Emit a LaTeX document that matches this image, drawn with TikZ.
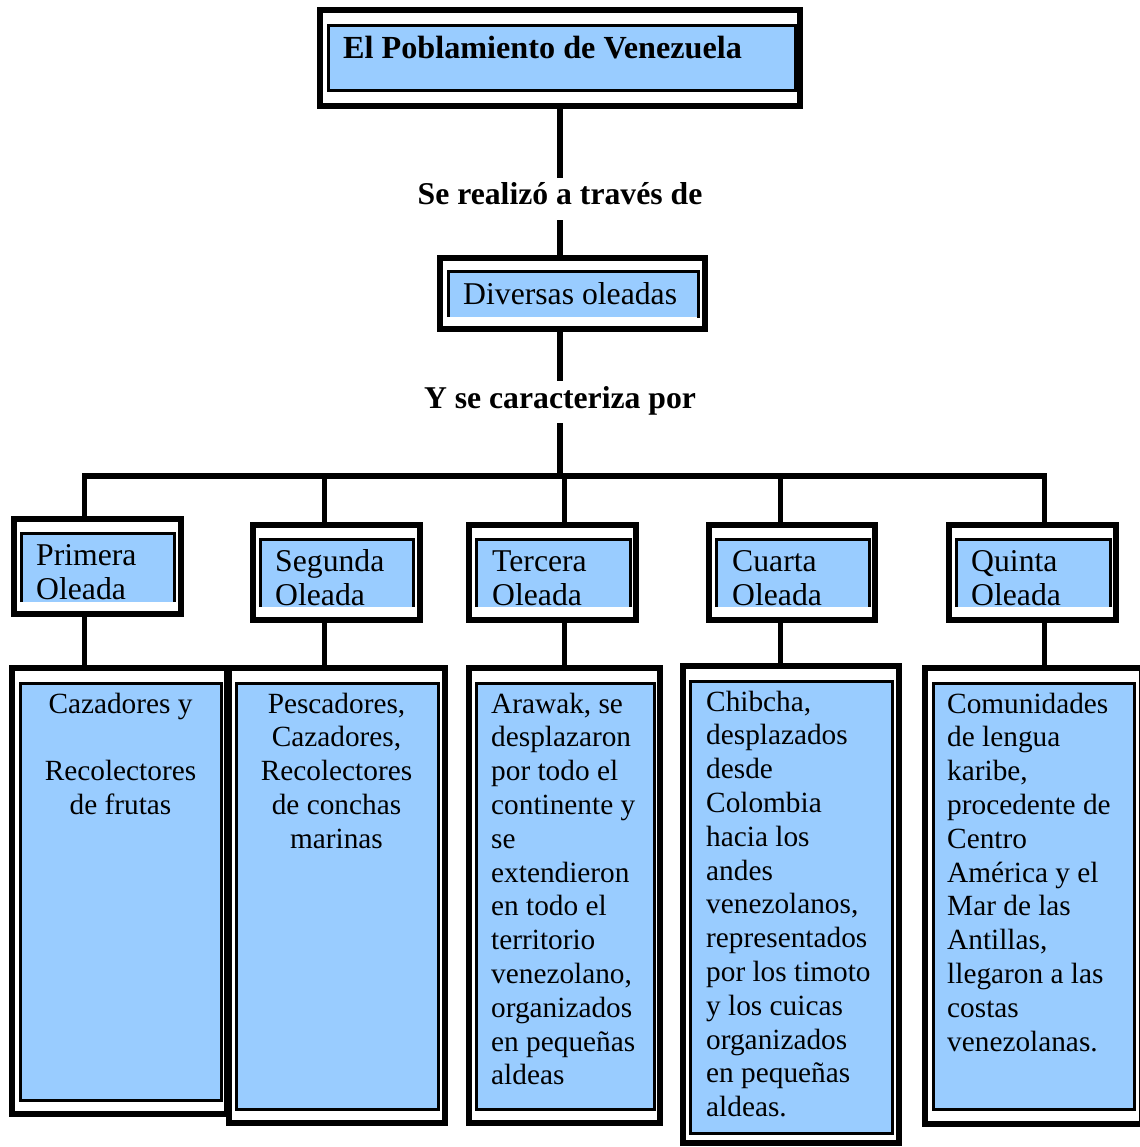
\documentclass[tikz,border=0pt]{standalone}
\usepackage{fontspec}
\setmainfont{Liberation Serif}
\usepackage{tikz}
\newcommand{\outerw}{6pt}
\newcommand{\innerw}{3pt}
\newcommand{\linkw}{5.5pt}
\newcommand{\oleadafont}{\fontsize{31.7pt}{33.8pt}\selectfont}
\newcommand{\descfont}{\fontsize{29.3pt}{33.8pt}\selectfont}
\definecolor{oleadablue}{HTML}{99CCFF}

\begin{document}
\begin{tikzpicture}[x=1pt,y=-1pt]
            \tikzset{outerframe/.style = {draw=black, line width=\outerw, inner sep=0pt}}
            \tikzset{innerbox/.style = {fill=oleadablue, draw=black, line width=\innerw}}
            \tikzset{link/.style = {line width=\linkw}}
            \tikzset{wavetext/.style = {font=\oleadafont, inner sep=0pt}}
            \tikzset{desctext/.style = {font=\descfont, inner sep=0pt}}
            \tikzset{linklabel/.style = {font=\oleadafont\bfseries, inner xsep=0pt, inner ysep=5pt, text height=22pt, text depth=10pt}}
            \useasboundingbox (0,0) rectangle (1139,1147);

            % title and first level
            \node[outerframe, minimum width=480pt, minimum height=96pt] (title) at (560,58) {};
            \draw[innerbox] (328,25.5) rectangle (795,91);
            \node[wavetext, font=\fontsize{32.2pt}{34pt}\selectfont\bfseries, anchor=base west] (titletext) at (343,59) {El Poblamiento de Venezuela};
            \node[linklabel, anchor=base] (realiza) at (560,205) {Se realizó a través de};

            \node[outerframe, minimum width=264.5pt, minimum height=71pt] (div) at (572.25,293.5) {};
            \fill[oleadablue] (448,272) rectangle (698,317);
            \draw[line width=\innerw] (448,317) -- (448,272) -- (698,272) -- (698,318);
            \node[wavetext, anchor=base west] (divtext) at (463,304) {Diversas oleadas};
            \node[linklabel, anchor=base] (caract) at (560,408) {Y se caracteriza por};

            \draw[link] (title.south -| realiza) -- (realiza.north);
            \draw[link] (realiza.south) -- (realiza.south |- div.north);
            \draw[link] (div.south -| caract) -- (caract.north);

            % the five waves (text anchored at the baseline of its last line)
            \node[outerframe, minimum width=167pt, minimum height=95pt] (w1) at (97.5,566.5) {};
            \node[outerframe, minimum width=167pt, minimum height=95pt] (w2) at (336.5,572.5) {};
            \node[outerframe, minimum width=167pt, minimum height=95pt] (w3) at (552.5,572.5) {};
            \node[outerframe, minimum width=166pt, minimum height=95pt] (w4) at (792,572.5) {};
            \node[outerframe, minimum width=167pt, minimum height=95pt] (w5) at (1032.5,572.5) {};

            \fill[oleadablue] (21.5,533.5) rectangle (174.5,602);
            \begin{scope}
                \clip (21.5,533.5) rectangle (174.5,602);
                \node[wavetext, align=left, anchor=base west] (w1text) at (36,599) {Primera\\Oleada};
            \end{scope}
            \draw[line width=\innerw] (21.5,602) -- (21.5,533.5) -- (174.5,533.5) -- (174.5,602);

            \fill[oleadablue] (260.5,539.5) rectangle (413.5,607);
            \begin{scope}
                \clip (260.5,539.5) rectangle (413.5,607);
                \node[wavetext, align=left, anchor=base west] (w2text) at (275,605) {Segunda\\Oleada};
            \end{scope}
            \draw[line width=\innerw] (260.5,607) -- (260.5,539.5) -- (413.5,539.5) -- (413.5,607);

            \fill[oleadablue] (476,539.5) rectangle (630.5,607);
            \begin{scope}
                \clip (476,539.5) rectangle (630.5,607);
                \node[wavetext, align=left, anchor=base west] (w3text) at (492,605) {Tercera\\Oleada};
            \end{scope}
            \draw[line width=\innerw] (476,607) -- (476,539.5) -- (630.5,539.5) -- (630.5,607);

            \fill[oleadablue] (716.5,539.5) rectangle (869.5,607);
            \begin{scope}
                \clip (716.5,539.5) rectangle (869.5,607);
                \node[wavetext, align=left, anchor=base west] (w4text) at (732,605) {Cuarta\\Oleada};
            \end{scope}
            \draw[line width=\innerw] (716.5,607) -- (716.5,539.5) -- (869.5,539.5) -- (869.5,607);

            \fill[oleadablue] (956.5,539.5) rectangle (1110.5,607);
            \begin{scope}
                \clip (956.5,539.5) rectangle (1110.5,607);
                \node[wavetext, align=left, anchor=base west] (w5text) at (971,605) {Quinta\\Oleada};
            \end{scope}
            \draw[line width=\innerw] (956.5,607) -- (956.5,539.5) -- (1110.5,539.5) -- (1110.5,607);

            % description boxes
            \node[outerframe, minimum width=215pt, minimum height=445.5pt] (g1) at (119.5,890.75) {};
            \draw[innerbox] (20.5,683.5) rectangle (221.5,1100.5);
            \node[desctext, align=center, anchor=base] (g1text) at (120.5,814.4)
                {Cazadores y\\[\baselineskip]Recolectores\\de frutas};

            \node[outerframe, minimum width=215.5pt, minimum height=455.5pt] (g2) at (336.75,895.25) {};
            \draw[innerbox] (236,683) rectangle (438,1109.5);
            \node[desctext, align=center, anchor=base] (g2text) at (336.5,848.2)
                {Pescadores,\\Cazadores,\\Recolectores\\de conchas\\marinas};

            \node[outerframe, minimum width=191pt, minimum height=455pt] (g3) at (564.5,895.5) {};
            \draw[innerbox] (476.5,683) rectangle (654,1109.5);
            \node[desctext, align=left, anchor=base west] (g3text) at (491,1084.8)
                {Arawak, se\\desplazaron\\por todo el\\continente y\\se\\extendieron\\en todo el\\territorio\\venezolano,\\organizados\\en pequeñas\\aldeas};

            \node[outerframe, minimum width=216pt, minimum height=477pt] (g4) at (791,904.5) {};
            \draw[innerbox] (690.5,681.5) rectangle (892.5,1133.5);
            \node[desctext, align=left, anchor=base west] (g4text) at (706,1116.6)
                {Chibcha,\\desplazados\\desde\\Colombia\\hacia los\\andes\\venezolanos,\\representados\\por los timoto\\y los cuicas\\organizados\\en pequeñas\\aldeas.};

            \node[outerframe, minimum width=217.5pt, minimum height=456pt] (g5) at (1033.25,896) {};
            \draw[innerbox] (933,683.5) rectangle (1134,1109);
            \node[desctext, align=left, anchor=base west] (g5text) at (947,1051)
                {Comunidades\\de lengua\\karibe,\\procedente de\\Centro\\América y el\\Mar de las\\Antillas,\\llegaron a las\\costas\\venezolanas.};

            % branches
            \coordinate (d1) at (84.5,476);
            \coordinate (d2) at (324.5,476);
            \coordinate (d3) at (564.5,476);
            \coordinate (d4) at (780.5,476);
            \coordinate (d5) at (1044.5,476);
            \draw[link] (caract.south) -- (caract.south |- d1);
            \draw[link] (w1.north -| d1) -- (d1) -- (d5) -- (w5.north -| d5);
            \draw[link] (d2) -- (w2.north -| d2);
            \draw[link] (d3) -- (w3.north -| d3);
            \draw[link] (d4) -- (w4.north -| d4);
            \draw[link] (w1.south -| d1) -- (g1.north -| d1);
            \draw[link] (w2.south -| d2) -- (g2.north -| d2);
            \draw[link] (w3.south -| d3) -- (g3.north -| d3);
            \draw[link] (w4.south -| d4) -- (g4.north -| d4);
            \draw[link] (w5.south -| d5) -- (g5.north -| d5);
        \end{tikzpicture}
\end{document}
